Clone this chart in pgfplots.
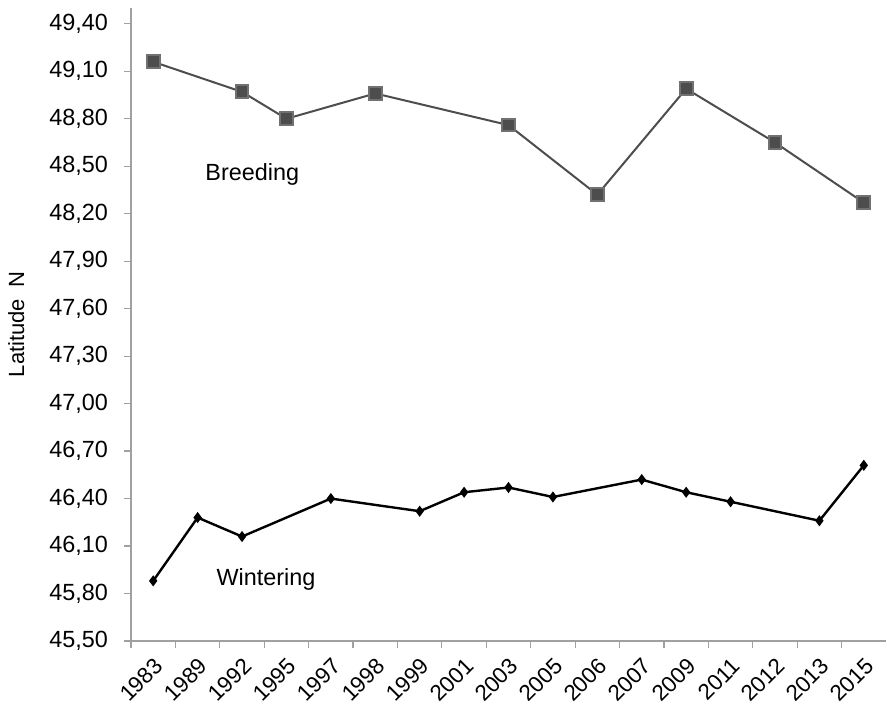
\documentclass[border=0pt]{standalone}
\usepackage{fontspec}
\setmainfont{Liberation Sans}
\usepackage{pgfplots}
\pgfplotsset{compat=1.18}

\definecolor{axisgray}{HTML}{A0A0A0}
\definecolor{breedgray}{HTML}{4D4D4D}

\begin{document}
\begin{tikzpicture}
\begin{axis}[
    at={(0,0)}, anchor=south west,
    scale only axis,
    width=377.5pt, height=316.5pt,
    xmin=-0.5, xmax=16.5,
    ymin=45.5, ymax=49.5,
    axis x line*=bottom,
    axis y line*=left,
    axis line style={axisgray, line width=0.6pt, -},
    xtick={0,...,16},
    xticklabels={1983,1989,1992,1995,1997,1998,1999,2001,2003,2005,2006,2007,2009,2011,2012,2013,2015},
    major x tick style={draw=none},
    minor xtick={-0.5,0.5,...,15.5},
    minor tick length=3.5pt,
    tick align=outside,
    tick style={axisgray, line width=0.6pt},
    major tick length=3.5pt,
    ytick={45.5,45.8,46.1,46.4,46.7,47.0,47.3,47.6,47.9,48.2,48.5,48.8,49.1,49.4},
    yticklabel style={xshift=-4.5pt, font=\fontsize{11.7}{14}\selectfont,
        /pgf/number format/.cd, fixed, fixed zerofill, precision=2, use comma, assume math mode=true},
    xticklabel style={rotate=45, anchor=east, xshift=0.5pt, yshift=-7pt, font=\fontsize{11.2}{13}\selectfont},
    ylabel={Latitude\enspace N},
    ylabel style={at={(axis description cs:-0.152,0.5)}, anchor=center, font=\fontsize{11}{13}\selectfont},
    clip=false,
]
% Breeding
\addplot[color=breedgray, line width=1pt, mark=square*, mark size=3.2pt,
    mark options={fill=breedgray, draw=breedgray!80}] coordinates {
    (0, 49.16)
    (2, 48.97)
    (3, 48.80)
    (5, 48.96)
    (8, 48.76)
    (10, 48.32)
    (12, 48.99)
    (14, 48.65)
    (16, 48.27)
};
% Wintering
\addplot[color=black, line width=1.2pt, mark=diamond*, mark size=1.8pt,
    mark options={fill=black}] coordinates {
    (0, 45.88)
    (1, 46.28)
    (2, 46.16)
    (4, 46.40)
    (6, 46.32)
    (7, 46.44)
    (8, 46.47)
    (9, 46.41)
    (11, 46.52)
    (12, 46.44)
    (13, 46.38)
    (15, 46.26)
    (16, 46.61)
};
\node[font=\fontsize{11.7}{14}\selectfont] at (axis cs:2.23,48.45) {Breeding};
\node[font=\fontsize{11.7}{14}\selectfont] at (axis cs:2.54,45.89) {Wintering};
\end{axis}
\pgfresetboundingbox
\useasboundingbox (-65.5pt,-34.5pt) rectangle (378pt,320.5pt);
\end{tikzpicture}
\end{document}
